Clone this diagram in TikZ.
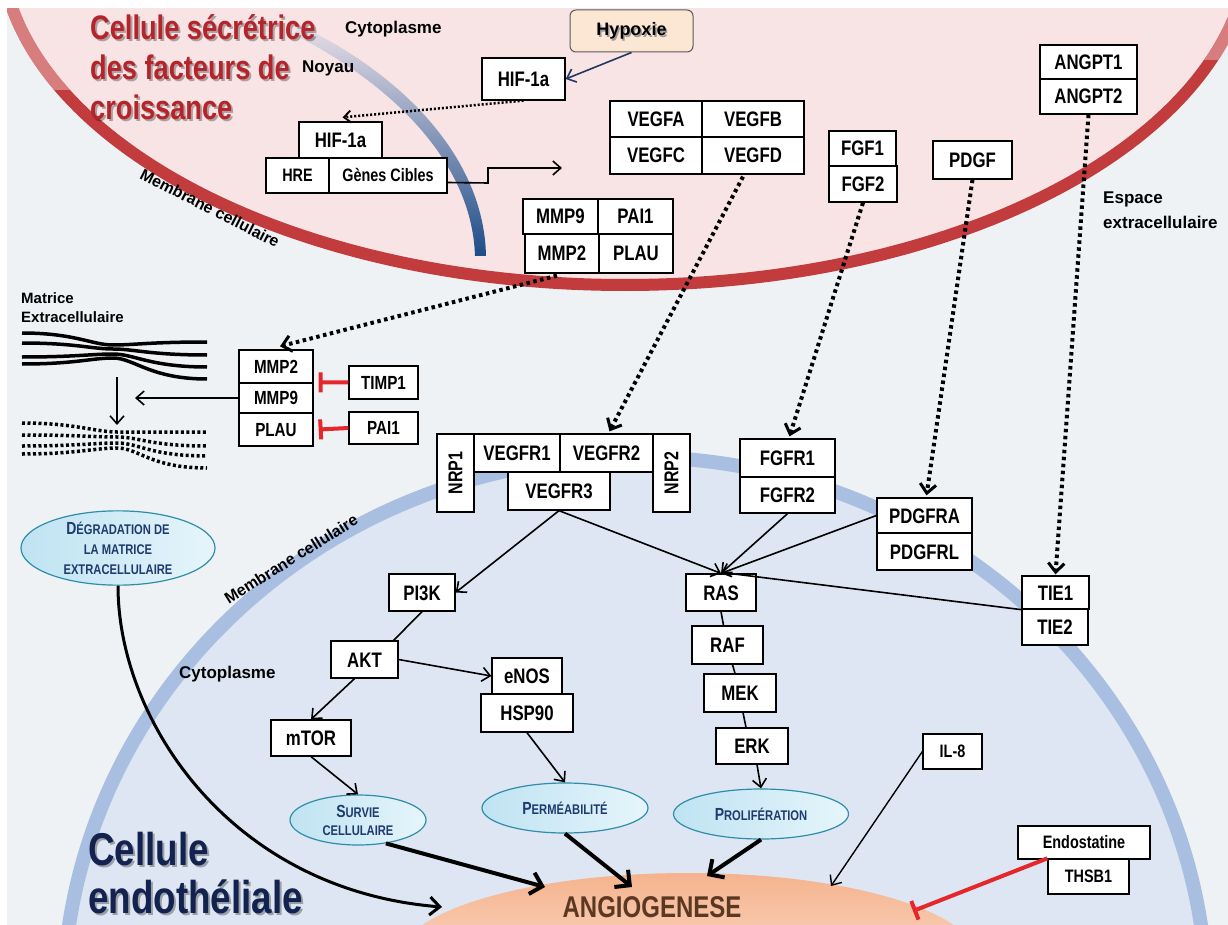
\documentclass[tikz,border=0pt]{standalone}
\usepackage{fontspec}
\setmainfont{Liberation Sans}[FakeStretch=0.8]
\newfontfamily\wide{Liberation Sans}
\usetikzlibrary{arrows.meta,calc,shapes.geometric}
\definecolor{bgc}{HTML}{EEF2F5}
\definecolor{pinkf}{HTML}{F8E4E5}
\definecolor{redm}{HTML}{C23B3D}
\definecolor{redl}{HTML}{E7A9AA}
\definecolor{bluef}{HTML}{DDE6F2}
\definecolor{bluem}{HTML}{A8BFE2}
\definecolor{titler}{HTML}{B5242A}
\definecolor{navyt}{HTML}{13224F}
\definecolor{ellA}{HTML}{BFE3F2}
\definecolor{ellB}{HTML}{E6F5FB}
\definecolor{elld}{HTML}{2F8DA8}
\definecolor{elltxt}{HTML}{1F3A6E}
\definecolor{inh}{HTML}{E5262B}
\definecolor{angA}{HTML}{F5B38E}
\definecolor{angB}{HTML}{FFF3EC}
\definecolor{hypf}{HTML}{FCE6D4}
\definecolor{nucl}{HTML}{E6DDE6}
\definecolor{nucd}{HTML}{1D4C88}
\definecolor{angt}{HTML}{5A3822}
\definecolor{navyc}{HTML}{1F3864}
\newcommand\fsz[1]{\fontsize{#1}{#1}\selectfont}
\newcommand\SC[2]{{\fontsize{17.5}{20}\selectfont #1}{\fontsize{14}{20}\selectfont #2}}
\newcommand{\bx}[7][]{\node[bxs,#1,minimum width={(#5-#3)*1pt},minimum height={(#6-#4)*1pt}] (#2) at ({(#3+#5)/2},{(#4+#6)/2}) {#7};}
\tikzset{
 bxs/.style={draw=black, fill=white, line width=1.3pt, inner sep=0pt, font=\bfseries\fsz{21}, text height=15pt, text depth=0pt},
 mid/.style={font=\bfseries\fsz{19}, text height=13.6pt},
 sm/.style={font=\bfseries\fsz{18}, text height=12.9pt},
 ar/.style={line width=1.6pt, -{Straight Barb[length=8pt,width=14pt]}},
 dar/.style={line width=4pt, dash pattern=on 3.5pt off 3.5pt, -{Straight Barb[length=9pt,width=16pt,line width=3pt]}},
 sdar/.style={line width=2.5pt, dash pattern=on 2pt off 2pt, -{Straight Barb[length=7pt,width=12pt,line width=1.8pt]}},
 tar/.style={line width=4pt, -{Straight Barb[length=11pt,width=22pt]}},
 inhib/.style={draw=inh, line width=4pt, -{Bar[width=20pt,line width=4pt]}},
 ell/.style={ellipse, draw=elld, line width=1.2pt, left color=ellA, right color=ellB, inner sep=0pt, align=center, text=elltxt, font=\bfseries\fontsize{14}{20}\selectfont},
 lab/.style={font=\wide\bfseries\fsz{17}, anchor=base west, inner sep=0pt},
 ttl/.style={font=\bfseries\fsz{34}, anchor=base west, inner sep=0pt},
 ttl2/.style={font=\bfseries\fsz{46}, anchor=base west, inner sep=0pt},
 plain/.style={line width=1.6pt}
}
\begin{document}
\begin{tikzpicture}[x=1pt,y=-1pt]
\useasboundingbox (0,0) rectangle (1228,925);
\fill[white] (0,0) rectangle (1228,925);
\begin{scope}
\clip (7,9) rectangle (1228,925);
\fill[bgc] (7,9) rectangle (1228,925);
\fill[bluef] (635,1005) ellipse [x radius=572, y radius=548];
\draw[bluem, line width=14pt] (635,1005) ellipse [x radius=572, y radius=548];
\fill[pinkf] (625,-60) ellipse [x radius=625, y radius=345];
\draw[redm, line width=12pt] (625,-60) ellipse [x radius=625, y radius=345];
% lighter ends of the red membrane
\begin{scope}
\clip (0,0) rectangle (70,90);
\draw[redl, line width=12pt, opacity=.6] (625,-60) ellipse [x radius=625, y radius=345];
\end{scope}
\begin{scope}
\clip (1180,0) rectangle (1228,60);
\draw[redl, line width=12pt, opacity=.6] (625,-60) ellipse [x radius=625, y radius=345];
\end{scope}
\shade[top color=nucl, bottom color=nucd] (293,34) .. controls (392,84) and (472,162) .. (475,256) -- (486,256) .. controls (484,158) and (404,76) .. (301,26) -- cycle;
\node[ellipse, minimum width=580pt, minimum height=174pt, inner sep=0pt, top color=angA, bottom color=angB] (ang) at (688,960) {};
\end{scope}

% titles
\node[ttl, text=black, opacity=.3] (t1s) at (92,42) {Cellule sécrétrice};
\node[ttl, text=black, opacity=.3] (t2s) at (92,82) {des facteurs de};
\node[ttl, text=black, opacity=.3] (t3s) at (92,122) {croissance};
\node[ttl, text=titler] (t1) at (90,40) {Cellule sécrétrice};
\node[ttl, text=titler] (t2) at (90,80) {des facteurs de};
\node[ttl, text=titler] (t3) at (90,120) {croissance};
\node[ttl2, text=black, opacity=.3] (c1s) at (90,867) {Cellule};
\node[ttl2, text=black, opacity=.3] (c2s) at (90,915) {endothéliale};
\node[ttl2, text=navyt] (c1) at (88,865) {Cellule};
\node[ttl2, text=navyt] (c2) at (88,913) {endothéliale};

% labels
\node[lab] (cyto1) at (345,34) {Cytoplasme};
\node[lab] (noyau) at (302,73) {Noyau};
\node[lab] (esp1) at (1103,204) {Espace};
\node[lab] (esp2) at (1103,229) {extracellulaire};
\node[lab, font=\wide\bfseries\fsz{15}] (mat1) at (21,303) {Matrice};
\node[lab, font=\wide\bfseries\fsz{15}] (mat2) at (21,322) {Extracellulaire};
\node[lab] (cyto2) at (179,678) {Cytoplasme};
\node[font=\wide\bfseries\fsz{16}, rotate=-27, inner sep=0pt] (memb1) at (210,208) {Membrane cellulaire};
\node[font=\wide\bfseries\fsz{16}, rotate=32, inner sep=0pt] (memb2) at (291,559) {Membrane cellulaire};

% fibers
\foreach \l/\r/\m in {333/342/345, 343/355/349, 357/367/354, 364/379/358} {
  \draw[line width=3.5pt] (22,\l) .. controls (75,\l) and (92,\m) .. (113,\m) .. controls (134,\m) and (150,\r) .. (207,\r);
}
\foreach \l/\r/\m in {423/432/432, 435/446/437, 446/456/443, 454/468/448} {
  \draw[line width=3.5pt, dash pattern=on 3pt off 2.5pt] (22,\l) .. controls (75,\l) and (95,\m) .. (117,\m) .. controls (139,\m) and (150,\r) .. (207,\r);
}

% Hypoxie
\node[draw=gray!70!black, line width=1pt, rounded corners=6pt, fill=hypf, minimum width=123pt, minimum height=42pt, inner sep=0pt] (hyp) at (631.5,31) {};
\node[font=\wide\bfseries\fsz{18}, text=black!40, inner sep=0pt] (hyps) at (633,33) {Hypoxie};
\node[font=\wide\bfseries\fsz{18}, inner sep=0pt] (hypt) at (631.5,31) {Hypoxie};

% top boxes
\bx{hifa}{482}{58}{565}{100}{HIF-1a}
\bx{hifb}{299}{122}{382}{158}{HIF-1a}
\bx[sm]{hre}{266}{158}{329}{193}{HRE}
\bx[sm]{genes}{329}{158}{447}{193}{Gènes Cibles}
\bx{vegfa}{610}{101}{702}{137}{VEGFA}
\bx{vegfb}{702}{101}{804}{137}{VEGFB}
\bx{vegfc}{610}{137}{702}{174}{VEGFC}
\bx{vegfd}{702}{137}{804}{174}{VEGFD}
\bx{mmp9a}{523}{199}{598}{234}{MMP9}
\bx{pai1a}{598}{199}{673}{234}{PAI1}
\bx{mmp2a}{525}{234}{599}{273}{MMP2}
\bx{plaua}{599}{234}{673}{273}{PLAU}
\bx{fgf1}{829}{131}{896}{166}{FGF1}
\bx{fgf2}{829}{166}{897}{202}{FGF2}
\bx{pdgf}{933}{141}{1012}{179}{PDGF}
\bx{angpt1}{1040}{45}{1137}{79}{ANGPT1}
\bx{angpt2}{1040}{79}{1137}{114}{ANGPT2}

% matrix boxes
\bx[mid]{mmp2b}{239}{350}{313}{383}{MMP2}
\bx[mid]{mmp9b}{239}{383}{313}{413}{MMP9}
\bx[mid]{plaub}{239}{413}{313}{446}{PLAU}
\bx[mid]{timp1}{349}{366}{418}{399}{TIMP1}
\bx[mid]{pai1b}{349}{412}{418}{444}{PAI1}

% receptors
\bx{nrp1}{437}{434}{474}{512}{}
\node[rotate=90, font=\bfseries\fsz{20}, inner sep=0pt] (nrp1t) at (nrp1) {NRP1};
\bx{vegfr1}{474}{434}{560}{472}{VEGFR1}
\bx{vegfr2}{560}{434}{653}{472}{VEGFR2}
\bx{nrp2}{653}{434}{690}{512}{}
\node[rotate=90, font=\bfseries\fsz{20}, inner sep=0pt] (nrp2t) at (nrp2) {NRP2};
\bx{vegfr3}{508}{472}{610}{510}{VEGFR3}
\bx{fgfr1}{740}{439}{835}{477}{FGFR1}
\bx{fgfr2}{740}{477}{835}{513}{FGFR2}
\bx{pdgfra}{877}{498}{972}{533}{PDGFRA}
\bx{pdgfrl}{877}{533}{972}{570}{PDGFRL}
\bx{tie1}{1022}{576}{1089}{609}{TIE1}
\bx{tie2}{1022}{609}{1088}{645}{TIE2}

% pathway
\bx{pi3k}{389}{574}{455}{611}{PI3K}
\bx{ras}{686}{574}{756}{611}{RAS}
\bx{akt}{331}{641}{398}{678}{AKT}
\bx{enos}{492}{658}{562}{694}{eNOS}
\bx{hsp90}{481}{694}{573}{732}{HSP90}
\bx{mtor}{271}{720}{351}{756}{mTOR}
\bx{raf}{692}{626}{763}{664}{RAF}
\bx{mek}{704}{674}{776}{712}{MEK}
\bx{erk}{716}{728}{788}{764}{ERK}
\bx[sm]{il8}{923}{734}{982}{769}{IL-8}
\bx[sm]{endo}{1018}{826}{1150}{859}{Endostatine}
\bx[sm]{thsb1}{1048}{859}{1129}{894}{THSB1}

% ellipses
\node[ell, minimum width=194pt, minimum height=72pt] (deg) at (118,548) {\SC{D}{ÉGRADATION DE}\\\SC{}{LA MATRICE}\\\SC{}{EXTRACELLULAIRE}};
\node[ell, minimum width=136pt, minimum height=50pt] (survie) at (358,820) {\SC{S}{URVIE}\\[-2pt]\SC{}{CELLULAIRE}};
\node[ell, minimum width=166pt, minimum height=50pt] (perm) at (565,808) {\SC{P}{ERMÉABILITÉ}};
\node[ell, minimum width=175pt, minimum height=50pt] (prolif) at (761,814) {\SC{P}{ROLIFÉRATION}};

\node[font=\bfseries\fsz{30}, text=angt, anchor=base, inner sep=0pt] (angl) at (652,917) {ANGIOGENESE};

% coordinates
\coordinate (gtip) at (562,168);
\coordinate (matR) at (135,398);
\coordinate (fibT) at (117,377);
\coordinate (fibB) at (117,425);
\coordinate (angS) at (545,887);
\coordinate (angP) at (632,887);
\coordinate (angR) at (707,876);
\coordinate (angI) at (831,886);
\coordinate (angD) at (442,907);
\coordinate (angE) at (913,911);

% connectors
\draw[ar, draw=navyc] (hyp.south) -- (hifa.east);
\draw[sdar] (hifa.south) -- ($(hifb.north)+(2,-4)$);
\draw[ar] ($(genes.east)+(0,7)$) -- (488,183) -- (488,168) -- (gtip);
\draw[dar] ($(vegfd.south)+(-10,2)$) -- ($(vegfr2.north)+(3,-2)$);
\draw[dar] (fgf2.south) -- ($(fgfr1.north)+(2,-2)$);
\draw[dar] (pdgf.south) -- ($(pdgfra.north)+(2,-2)$);
\draw[dar] (angpt2.south) -- ($(tie1.north)+(0,-1)$);
\draw[dar] ($(mmp2a.south)+(-5,2)$) -- ($(mmp2b.north)+(4,-3)$);
\draw[ar] (mmp9b.west) -- (matR);
\draw[ar] (fibT) -- (fibB);
\draw[inhib] (timp1.west) -- ($(mmp9b.north east)+(5,0)$);
\draw[inhib] (pai1b.west) -- ($(plaub.east)+(5,0)$);

\draw[ar] (vegfr3.south) -- (pi3k.east);
\draw[ar] (vegfr3.south) -- (ras.north);
\draw[ar] (fgfr2.south) -- (ras.north);
\draw[ar] (pdgfra.west) -- (ras.north);
\draw[plain] (tie1.south west) -- ($(ras.north)+(8,0)$);
\draw[plain] (pi3k.south) -- ($(akt.north east)+(-5,0)$);
\draw[ar] (akt.east) -- (enos.west);
\draw[ar] ($(akt.south)+(-10,0)$) -- (mtor.north);
\draw[ar] (mtor.south) -- (survie.north);
\draw[ar] (hsp90.south) -- (perm.north);
\draw[plain] (ras.south) -- ($(raf.north)+(-4,0)$);
\draw[plain] ($(raf.south)+(5,0)$) -- ($(mek.north)+(-5,0)$);
\draw[plain] ($(mek.south)+(3,0)$) -- ($(erk.north)+(-6,0)$);
\draw[ar] ($(erk.south)+(5,0)$) -- (prolif.north);

\draw[tar] (survie.-40) -- (angS);
\draw[tar] (perm.south) -- (angP);
\draw[tar] (prolif.south) -- (angR);
\draw[ar, line width=1.4pt] (il8.west) -- (angI);
\draw[inhib] (thsb1.north west) -- (angE);
\draw[line width=3pt, -{Straight Barb[length=10pt,width=18pt]}] (deg.south) .. controls (118,720) and (230,890) .. (angD);
\end{tikzpicture}
\end{document}
